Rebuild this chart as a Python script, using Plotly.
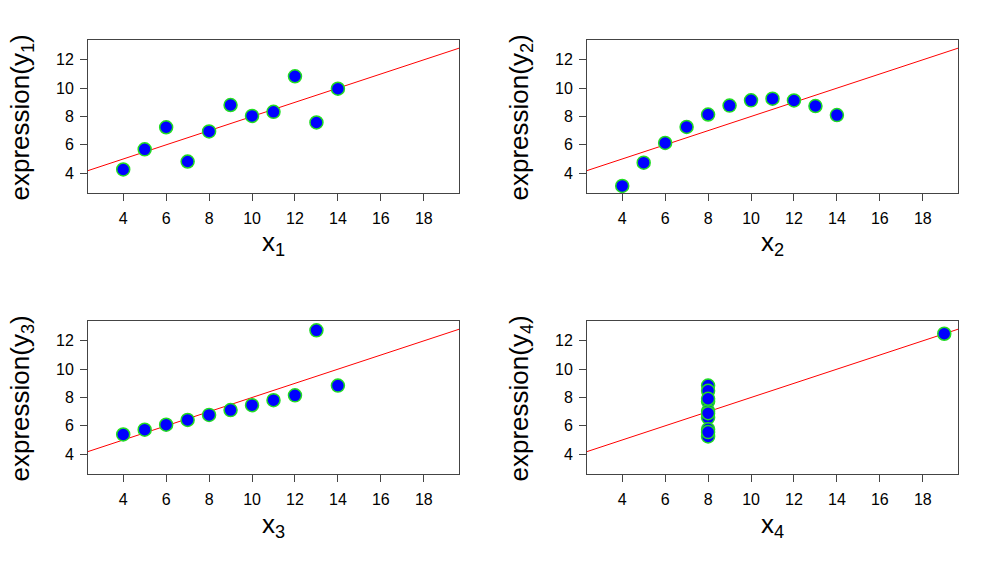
import numpy as np
import plotly.graph_objects as go

# Anscombe's quartet
x1 = [10, 8, 13, 9, 11, 14, 6, 4, 12, 7, 5]
x2 = [10, 8, 13, 9, 11, 14, 6, 4, 12, 7, 5]
x3 = [10, 8, 13, 9, 11, 14, 6, 4, 12, 7, 5]
x4 = [8, 8, 8, 8, 8, 8, 8, 19, 8, 8, 8]
y1 = [8.04, 6.95, 7.58, 8.81, 8.33, 9.96, 7.24, 4.26, 10.84, 4.82, 5.68]
y2 = [9.14, 8.14, 8.74, 8.77, 9.26, 8.10, 6.13, 3.10, 9.13, 7.26, 4.74]
y3 = [7.46, 6.77, 12.74, 7.11, 7.81, 8.84, 6.08, 5.39, 8.15, 6.42, 5.73]
y4 = [6.58, 5.76, 7.71, 8.84, 8.47, 7.04, 5.25, 12.50, 5.56, 7.91, 6.89]

x_ticks = [4, 6, 8, 10, 12, 14, 16, 18]
y_ticks = [4, 6, 8, 10, 12]
x_lim = [3, 19]
y_lim = [3, 13]

W, H = 998, 562
FONT = "Liberation Sans, Arial, Helvetica, sans-serif"
AXCOL = "#444444"

def ext(lim):
    d = (lim[1] - lim[0]) * 0.04
    return [lim[0] - d, lim[1] + d]

xr = ext(x_lim)
yr = ext(y_lim)

# panel boxes in pixels: (left, right, top, bottom)
boxes = [(88, 459, 40, 193), (587, 958, 40, 193),
         (88, 459, 321, 474), (587, 958, 321, 474)]
datasets = [(x1, y1), (x2, y2), (x3, y3), (x4, y4)]

fig = go.Figure()
annotations = []
for i, ((xs, ys), (l, r, t, b)) in enumerate(zip(datasets, boxes), start=1):
    xa = "x" if i == 1 else f"x{i}"
    ya = "y" if i == 1 else f"y{i}"
    slope, icpt = np.polyfit(xs, ys, 1)
    lx = np.array(xr)
    fig.add_trace(go.Scatter(x=lx, y=icpt + slope * lx, mode="lines",
                             line=dict(color="red", width=1),
                             xaxis=xa, yaxis=ya, showlegend=False,
                             hoverinfo="skip"))
    fig.add_trace(go.Scatter(x=xs, y=ys, mode="markers",
                             marker=dict(color="blue", size=13,
                                         line=dict(color="#22dd22", width=1.5)),
                             cliponaxis=False,
                             xaxis=xa, yaxis=ya, showlegend=False))
    axis_common = dict(showline=True, mirror=True, linecolor=AXCOL, linewidth=1,
                       ticks="outside", ticklen=7, tickcolor=AXCOL, tickwidth=1,
                       showgrid=False, zeroline=False,
                       tickfont=dict(family=FONT, size=16, color="black"))
    fig.layout[f"xaxis{'' if i == 1 else i}"] = dict(
        axis_common, domain=[l / W, r / W], range=xr, tickvals=x_ticks,
        anchor=ya, ticklabelstandoff=4)
    fig.layout[f"yaxis{'' if i == 1 else i}"] = dict(
        axis_common, domain=[1 - b / H, 1 - t / H], range=yr, tickvals=y_ticks,
        anchor=xa, ticklabelstandoff=3)
    annotations.append(dict(text=f"x<sub>{i}</sub>", xref="paper", yref="paper",
                            x=(l + r) / 2 / W, y=1 - (b + 51) / H,
                            showarrow=False, xanchor="center", yanchor="middle",
                            font=dict(family=FONT, size=26, color="black")))
    annotations.append(dict(text=f"expression(y<sub>{i}</sub>)", xref="paper", yref="paper",
                            x=(l - 67) / W, y=1 - ((t + b) / 2 + 1) / H, textangle=-90,
                            showarrow=False, xanchor="center", yanchor="middle",
                            font=dict(family=FONT, size=26, color="black")))

fig.update_layout(width=W, height=H, margin=dict(l=0, r=0, t=0, b=0),
                  plot_bgcolor="white", paper_bgcolor="white",
                  annotations=annotations)
fig.write_html("out.html", config={"displayModeBar": False},
               post_script="document.body.style.margin='0px';")
